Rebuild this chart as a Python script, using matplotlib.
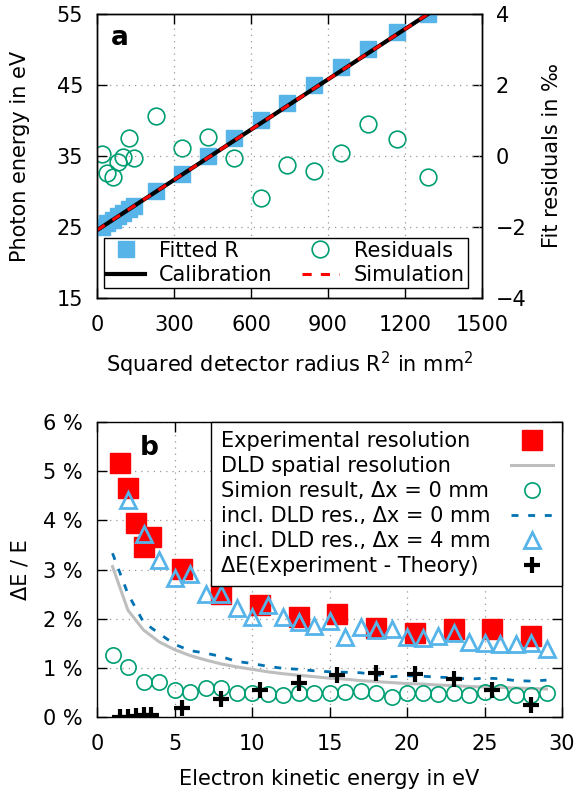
import numpy as np
import matplotlib.pyplot as plt

# panel a: calibration
r2_fit = [19, 40, 62, 82, 103, 124, 145, 230, 331, 432, 534, 639, 740, 845, 951, 1056, 1169, 1290]
e_fit = [25, 25.5, 26, 26.5, 27, 27.5, 28, 30, 32.5, 35, 37.5, 40, 42.5, 45, 47.5, 50, 52.5, 55]
residuals = [0.05, -0.49, -0.58, -0.17, -0.03, 0.51, -0.07, 1.13, 0.23, 0.53, -0.07, -1.17,
             -0.24, -0.42, 0.09, 0.89, 0.47, -0.58]
calib_r2 = [0, 1290]
calib_e = [24.55, 55]

# panel b: resolution
e_exp = [1.5, 2, 2.5, 3, 3.5, 5.5, 8, 10.5, 13, 15.5, 18, 20.5, 23, 25.5, 28]
res_exp = [5.16, 4.65, 3.94, 3.45, 3.66, 3.01, 2.50, 2.28, 2.04, 2.09, 1.82, 1.71, 1.80, 1.78, 1.65]
delta_exp = [0.0, 0.01, 0.02, 0.04, 0.05, 0.18, 0.37, 0.55, 0.70, 0.85, 0.89, 0.87, 0.77, 0.55, 0.24]

e_sim = list(range(1, 30))
res_sim = [1.26, 1.02, 0.72, 0.72, 0.54, 0.51, 0.58, 0.60, 0.49, 0.49, 0.47, 0.45, 0.48, 0.48, 0.49,
           0.51, 0.53, 0.48, 0.41, 0.48, 0.49, 0.47, 0.48, 0.45, 0.51, 0.51, 0.45, 0.45, 0.48]
res_dld = [3.06, 2.17, 1.77, 1.53, 1.37, 1.25, 1.16, 1.08, 1.02, 0.97, 0.92, 0.88, 0.85, 0.82, 0.79,
           0.77, 0.74, 0.72, 0.70, 0.68, 0.67, 0.65, 0.64, 0.62, 0.61, 0.60, 0.59, 0.58, 0.57]
res_sim_dld = [3.33, 2.50, 1.93, 1.70, 1.48, 1.35, 1.30, 1.23, 1.13, 1.09, 1.03, 0.99, 0.97, 0.94, 0.92,
               0.91, 0.90, 0.86, 0.82, 0.84, 0.83, 0.81, 0.80, 0.77, 0.79, 0.78, 0.74, 0.73, 0.75]
e_dx4 = list(range(2, 30))
res_dx4 = [4.41, 3.73, 3.20, 2.82, 2.91, 2.50, 2.50, 2.21, 2.04, 2.28, 2.04, 1.94, 1.85, 1.96,
           1.63, 1.83, 1.76, 1.78, 1.63, 1.61, 1.64, 1.70, 1.53, 1.51, 1.48, 1.49, 1.51, 1.39]

SKY = '#56B4E9'
GREEN = '#009E73'
DBLUE = '#0072B2'
FS = 15

plt.rcParams['font.family'] = ['DejaVu Sans']
plt.rcParams['font.size'] = FS

fig = plt.figure(figsize=(5.77, 7.95), dpi=100)


def style_axes(ax):
    for s in ax.spines.values():
        s.set_linewidth(1.0)
    ax.tick_params(direction='in', length=7, width=1.0, pad=10, labelsize=FS)
    ax.tick_params(axis='x', pad=12)
    ax.grid(True, linestyle=(0, (1, 4)), color='#999999', linewidth=0.9)


# ---- panel a ----
ax = fig.add_axes([97 / 577, 1 - 298 / 795, 385 / 577, 284 / 795])
ax2 = ax.twinx()
ax.set_zorder(ax2.get_zorder() + 1)
ax.patch.set_visible(False)

sq, = ax.plot(r2_fit, e_fit, 's', color=SKY, markersize=12, mec=SKY)
cal, = ax.plot(calib_r2, calib_e, '-', color='black', lw=3)
sim, = ax.plot(calib_r2, calib_e, '--', color='red', lw=2.2, dashes=(3, 3))
res, = ax2.plot(r2_fit, residuals, 'o', mfc='none', mec=GREEN, mew=1.2, markersize=12)

ax.set_xlim(0, 1500)
ax.set_ylim(15, 55)
ax.set_xticks([0, 300, 600, 900, 1200, 1500])
ax.set_yticks([15, 25, 35, 45, 55])
ax2.set_ylim(-4, 4)
ax2.set_yticks([-4, -2, 0, 2, 4])
style_axes(ax)
ax.tick_params(top=True, right=False)
ax2.tick_params(direction='in', length=7, width=1.0, pad=10, labelsize=FS)
for s in ax2.spines.values():
    s.set_linewidth(1.0)

ax.set_xlabel('Squared detector radius R$^2$ in mm$^2$', fontsize=FS, labelpad=11)
ax.set_ylabel('Photon energy in eV', fontsize=FS, labelpad=19)
ax2.set_ylabel('Fit residuals in ‰', fontsize=FS, labelpad=11)
ax.text(0.06, 0.915, 'a', transform=ax.transAxes, fontsize=19, fontweight='bold', ha='center', va='center')

leg = ax.legend([sq, cal, res, sim], ['Fitted R', 'Calibration', 'Residuals', 'Simulation'],
                ncol=2, loc='lower left', bbox_to_anchor=(0.018, 0.035, 0.945, 0.2), mode='expand',
                fontsize=FS, fancybox=False, framealpha=1, edgecolor='black',
                borderpad=0.15, labelspacing=0.2, handlelength=1.8, handletextpad=0.7,
                columnspacing=0.6, borderaxespad=0)
leg.get_frame().set_linewidth(1.0)

# ---- panel b ----
bx = fig.add_axes([97 / 577, 1 - 717 / 795, 465 / 577, 295 / 795])
h1, = bx.plot(e_exp, res_exp, 's', color='red', mec='red', markersize=14)
h2, = bx.plot(e_sim, res_dld, '-', color='#BEBEBE', lw=2.2)
h3, = bx.plot(e_sim, res_sim, 'o', mfc='none', mec=GREEN, mew=1.2, markersize=11)
h4, = bx.plot(e_sim, res_sim_dld, '--', color=DBLUE, lw=2, dashes=(2.5, 3.5))
h5, = bx.plot(e_dx4, res_dx4, '^', mfc='none', mec=SKY, mew=2, markersize=12)
h6, = bx.plot(e_exp, delta_exp, '+', color='black', mew=3, markersize=11)

bx.set_xlim(0, 30)
bx.set_ylim(0, 6)
bx.set_xticks([0, 5, 10, 15, 20, 25, 30])
bx.set_yticks([0, 1, 2, 3, 4, 5, 6])
bx.set_yticklabels(['%d %%' % v for v in range(7)])
style_axes(bx)
bx.tick_params(top=True, right=True)
bx.set_xlabel('Electron kinetic energy in eV', fontsize=FS, labelpad=11)
bx.set_ylabel('ΔE / E', fontsize=FS, labelpad=9)
bx.text(0.113, 0.912, 'b', transform=bx.transAxes, fontsize=19, fontweight='bold', ha='center', va='center')

textpad = 1.0
legb = bx.legend([h1, h2, h3, h4, h5, h6],
                 ['Experimental resolution', 'DLD spatial resolution', 'Simion result, Δx = 0 mm',
                  'incl. DLD res., Δx = 0 mm', 'incl. DLD res., Δx = 4 mm', 'ΔE(Experiment - Theory)'],
                 loc='upper right', bbox_to_anchor=(1, 1), borderaxespad=0, markerfirst=False,
                 fontsize=FS, fancybox=False, framealpha=1, edgecolor='black',
                 borderpad=0.45, labelspacing=0.24, handlelength=2.0, handletextpad=textpad)
legb.get_frame().set_linewidth(1.0)

# left-align legend text while keeping the symbols in a column on the right
fig.canvas.draw()
renderer = fig.canvas.get_renderer()
base_sep = textpad * FS
for col in legb._legend_handle_box.get_children():
    items = col.get_children()
    widths = [it.get_children()[0].get_window_extent(renderer).width for it in items]
    wmax = max(widths)
    for it, w in zip(items, widths):
        it.sep = base_sep + (wmax - w) * 72 / fig.dpi

fig.savefig('out.png', dpi=100)
